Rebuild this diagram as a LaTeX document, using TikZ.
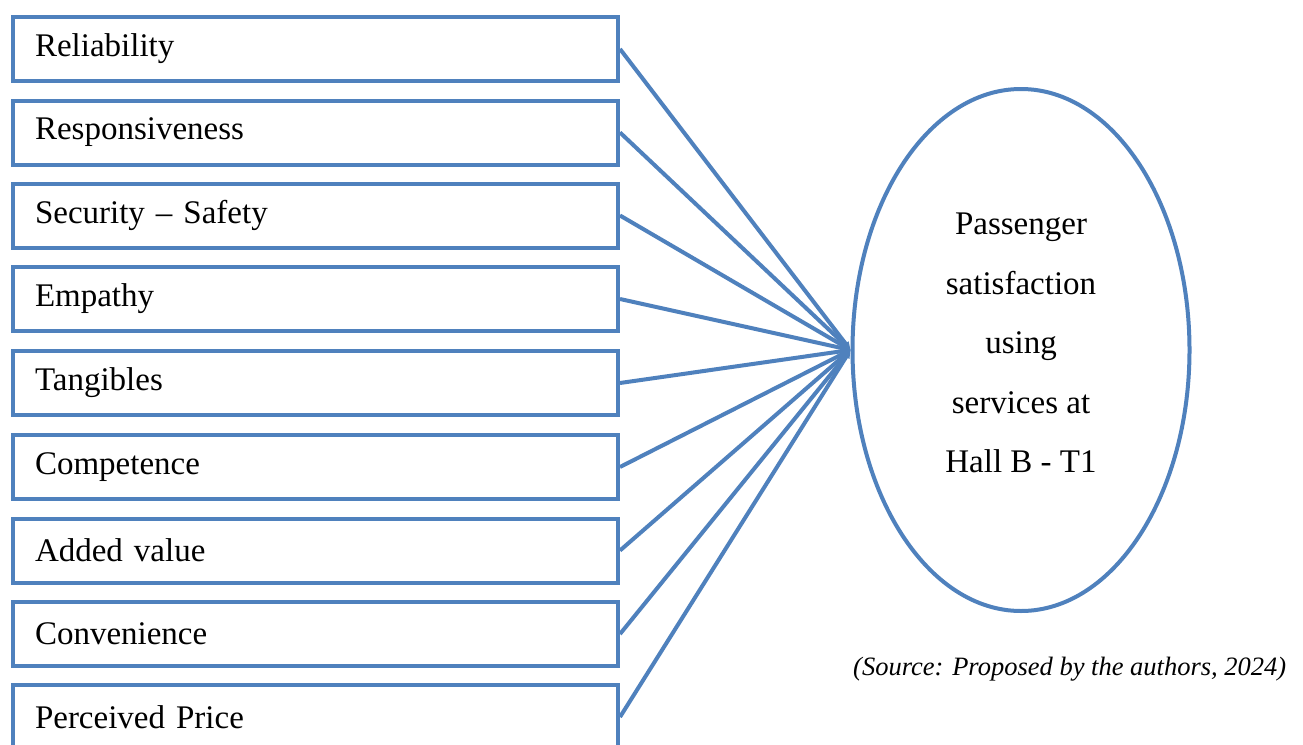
\documentclass[tikz,border=0pt]{standalone}
\usepackage{fontspec}
\setmainfont{Liberation Serif}
\usetikzlibrary{arrows.meta,shapes.geometric}
\definecolor{ofblue}{RGB}{79,129,189}
\begin{document}
\begin{tikzpicture}[x=1pt,y=-1pt,
  factor/.style={draw=ofblue,line width=4pt,minimum width=605pt,minimum height=64pt,
    text width=561pt,inner xsep=22pt,align=left,anchor=north west,
    font=\fontsize{33}{38}\selectfont},
  link/.style={draw=ofblue,line width=4pt,-{Triangle[length=8pt,width=7pt]}},
  satell/.style={draw=ofblue,line width=4pt,ellipse,minimum width=337pt,minimum height=522pt,inner sep=0pt}]
\useasboundingbox (0,0) rectangle (1303,744);
\fill[white] (0,0) rectangle (1303,744);
\node[factor] (b1) at (11,15) {Reliability};
\node[factor] (b2) at (11,98.5) {Responsiveness};
\node[factor] (b3) at (11,181.5) {Security -- Safety};
\node[factor] (b4) at (11,265) {Empathy};
\node[factor] (b5) at (11,349) {Tangibles};
\node[factor] (b6) at (11,433) {Competence};
\node[factor] (b7) at (11,516.5) {Added value};
\node[factor] (b8) at (11,600) {Convenience};
\node[factor] (b9) at (11,683) {Perceived Price};
\node[satell] (sat) at (1021,350) {};
\node[align=center,font=\fontsize{33}{59.5}\selectfont] (sattext) at (1021,343)
  {Passenger\\satisfaction\\using\\services at\\Hall B - T1};
\foreach \i in {1,...,9} {
  \draw[link] (b\i.east) -- (sat.west);
}
\node[anchor=west,inner sep=0pt,font=\fontsize{26.5}{30}\selectfont\itshape] (src) at (853,669)
  {(Source: Proposed by the authors, 2024)};
\end{tikzpicture}
\end{document}
